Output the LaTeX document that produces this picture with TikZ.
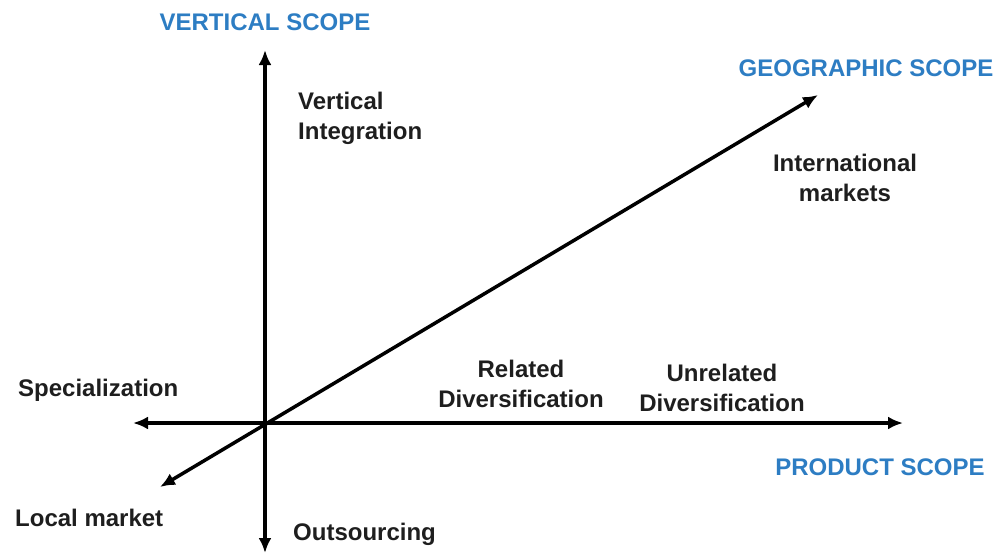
\documentclass[tikz,border=0pt]{standalone}
\usepackage{fontspec}
\setmainfont{Liberation Sans}
\usetikzlibrary{arrows.meta}
\definecolor{scopeblue}{RGB}{45,125,195}
\definecolor{txt}{RGB}{30,30,30}
\tikzset{
  axis/.style={line width=3.5pt, black, {Latex[length=15pt,width=13pt]}-{Latex[length=15pt,width=13pt]}},
  lbl/.style={font=\bfseries\fontsize{24}{30}\selectfont, text=txt, inner sep=0pt, align=left},
  clbl/.style={lbl, align=center},
  scope/.style={font=\bfseries\fontsize{24}{30}\selectfont, text=scopeblue, inner sep=0pt}
}
\begin{document}
\begin{tikzpicture}[x=1pt,y=-1pt]
\useasboundingbox (0,0) rectangle (1005,557);
\coordinate (o) at (265,423);
\coordinate (top) at (265,50);
\coordinate (bot) at (265,553);
\coordinate (left) at (133,423);
\coordinate (right) at (903,423);
\coordinate (ne) at (818,95);
\coordinate (sw) at (160,487);
\draw[axis] (bot) -- (top);
\draw[axis] (left) -- (right);
\draw[axis] (sw) -- (ne);
\node[scope] (vs) at (265,22) {VERTICAL SCOPE};
\node[scope] (gs) at (866,68) {GEOGRAPHIC SCOPE};
\node[scope] (ps) at (880,467) {PRODUCT SCOPE};
\node[lbl, anchor=west] (vi) at (298,118) {Vertical\\Integration};
\node[clbl] (im) at (845,178) {International\\markets};
\node[clbl] (rd) at (521,384) {Related\\Diversification};
\node[clbl] (ud) at (722,388) {Unrelated\\Diversification};
\node[lbl, anchor=west] (sp) at (18,390) {Specialization};
\node[lbl, anchor=west] (lm) at (15,518) {Local market};
\node[lbl, anchor=west] (os) at (293,534) {Outsourcing};
\end{tikzpicture}
\end{document}
